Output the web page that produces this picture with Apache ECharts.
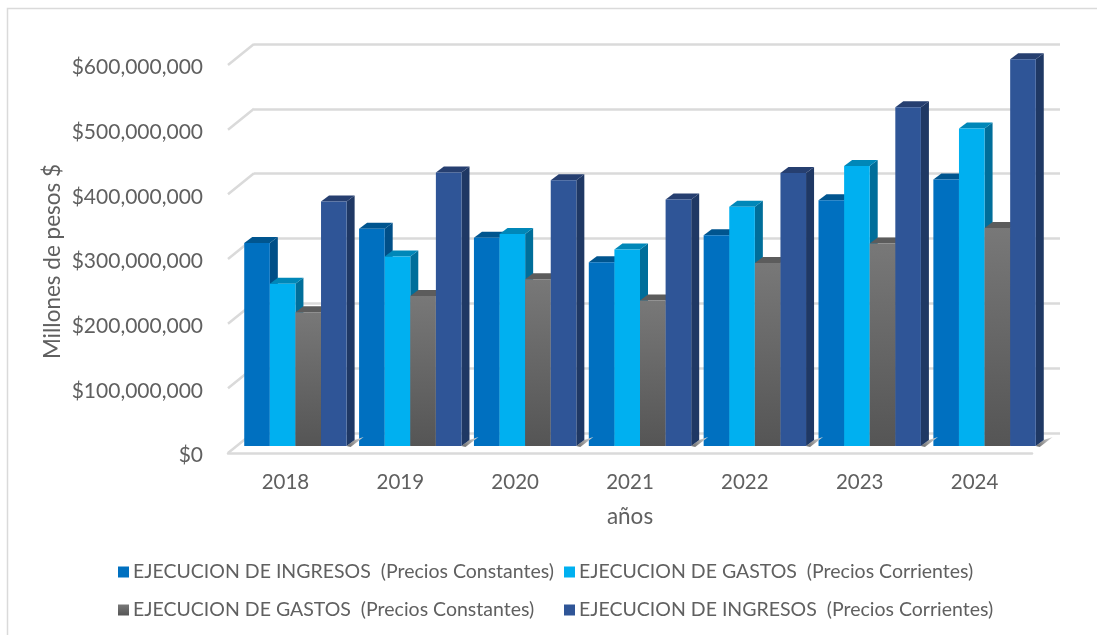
<!DOCTYPE html>
<html><head><meta charset="utf-8">
<style>html,body{margin:0;padding:0;background:#fff;overflow:hidden}#c{width:1097px;height:635px}</style>
<script src="https://cdn.jsdelivr.net/npm/echarts@6/dist/echarts.min.js"></script>
</head><body><div id="c"></div>
<script>
const years = ['2018','2019','2020','2021','2022','2023','2024'];
const ingresosConstantes = [314e6,336e6,322e6,284e6,326e6,380e6,412e6];
const gastosCorrientes   = [251e6,293e6,328e6,304e6,370e6,433e6,491e6];
const gastosConstantes   = [207e6,232e6,258e6,225e6,283e6,313e6,337e6];
const ingresosCorrientes = [378e6,423e6,411e6,381e6,422e6,524e6,598e6];
const yTicks = [0,1e8,2e8,3e8,4e8,5e8,6e8];
const seriesNames = ['EJECUCION DE INGRESOS  (Precios Constantes)','EJECUCION DE GASTOS  (Precios Corrientes)','EJECUCION DE GASTOS  (Precios Constantes)','EJECUCION DE INGRESOS  (Precios Corrientes)'];

const FONT='Lato', TXT='#606060', GRID='#dadada';
const BAR_W=25.6, SHIFT_X=10, SHIFT_Y=-7, DEP_X=8, DEP_Y=-6;
const grayGrad={type:'linear',x:0,y:0,x2:0,y2:1,colorStops:[{offset:0,color:'#787878'},{offset:1,color:'#555555'}]};
const shadowGrad={type:'linear',x:0,y:1,x2:1,y2:0,colorStops:[{offset:0,color:'#666666'},{offset:1,color:'#e0e0e0'}]};
const styles=[
 {front:'#0070C0',side:'#004F88',top:'#00558F'},
 {front:'#00B0F0',side:'#006E9A',top:'#0087B8'},
 {front:grayGrad,side:'#404040',top:'#5C5C5C'},
 {front:'#2F5597',side:'#1F3864',top:'#263F70'}
];
function barRender(idx){
  return function(params,api){
    const c=api.coord([api.value(0),api.value(1)]);
    const b=api.coord([api.value(0),0]);
    const l=c[0]+(idx-2)*BAR_W+SHIFT_X, r=l+BAR_W, t=c[1]+SHIFT_Y, bt=b[1]+SHIFT_Y;
    const s=styles[idx];
    const kids=[];
    if(idx===3){
      kids.push({type:'polygon',shape:{points:[[r,bt],[r+DEP_X,bt+DEP_Y],[r+DEP_X+9,bt+DEP_Y-3],[r+DEP_X-4,bt+1]]},style:{fill:shadowGrad},silent:true});
    }
    kids.push(
      {type:'polygon',shape:{points:[[r,t],[r+DEP_X,t+DEP_Y],[r+DEP_X,bt+DEP_Y],[r,bt]]},style:{fill:s.side}},
      {type:'polygon',shape:{points:[[l,t],[l+DEP_X,t+DEP_Y],[r+DEP_X,t+DEP_Y],[r,t]]},style:{fill:s.top}},
      {type:'rect',shape:{x:l,y:t,width:BAR_W,height:bt-t},style:{fill:s.front}}
    );
    return {type:'group',children:kids};
  };
}
function diagRender(params,api){
  const p=api.coord([0,api.value(0)]);
  return {type:'line',shape:{x1:228,y1:p[1],x2:254,y2:p[1]-21},style:{stroke:GRID,lineWidth:2.5,fill:null}};
}
const raw=[ingresosConstantes,gastosCorrientes,gastosConstantes,ingresosCorrientes];
const legendPos=[[118,562],[564,562],[118,600],[564,600]];
const option={
  animation:false,
  backgroundColor:'#fff',
  graphic:[{type:'rect',silent:true,z:-10,shape:{x:7.5,y:8.5,width:1200,height:800},style:{fill:'#fff',stroke:GRID,lineWidth:1.5}}],
  grid:[
    {left:228,width:804,top:65,height:388},
    {left:254,width:806,top:44,height:389},
    {left:228,width:804,top:67.5,height:388}
  ],
  xAxis:[
    {type:'category',gridIndex:0,data:years,name:'años',nameLocation:'middle',nameGap:52,nameMoveOverlap:false,
     nameTextStyle:{color:TXT,fontFamily:FONT,fontSize:22.5},
     axisTick:{show:false},axisLine:{show:true,lineStyle:{color:GRID,width:2.5}},
     axisLabel:{color:TXT,fontFamily:FONT,fontSize:20.5,margin:19},z:1},
    {type:'category',gridIndex:1,data:years,show:false},
    {type:'category',gridIndex:2,data:years,show:false}
  ],
  yAxis:[
    {type:'value',gridIndex:0,min:0,max:6e8,interval:1e8,show:false},
    {type:'value',gridIndex:1,min:0,max:6e8,interval:1e8,
     axisLine:{show:false},axisTick:{show:false},axisLabel:{show:false},
     splitLine:{show:true,lineStyle:{color:GRID,width:2.5}}},
    {type:'value',gridIndex:2,min:0,max:6e8,interval:1e8,name:'Millones de pesos $',nameLocation:'middle',nameGap:164,nameMoveOverlap:false,
     nameTextStyle:{color:TXT,fontFamily:FONT,fontSize:22.5},
     axisLine:{show:false},axisTick:{show:false},splitLine:{show:false},
     axisLabel:{color:TXT,fontFamily:FONT,fontSize:21,margin:25,formatter:v=>'$'+v.toLocaleString('en-US')}}
  ],
  legend:seriesNames.map((n,i)=>({data:[{name:n,icon:'rect'}],left:legendPos[i][0],top:legendPos[i][1],orient:'horizontal',
     itemWidth:11,itemHeight:11,itemGap:0,padding:0,selectedMode:false,
     textStyle:{color:TXT,fontFamily:FONT,fontSize:19.5,padding:[0,0,0,-1]}})),
  series:[
    {type:'custom',name:'wall',xAxisIndex:0,yAxisIndex:0,silent:true,z:1,renderItem:diagRender,
     data:yTicks.map(v=>[v]),encode:{y:0}},
    ...raw.map((vals,i)=>({
      type:'custom',name:seriesNames[i],xAxisIndex:0,yAxisIndex:0,z:3+i,
      itemStyle:{color:i===2?grayGrad:styles[i].front},
      renderItem:barRender(i),
      data:vals.map((v,k)=>[k,v]),encode:{x:0,y:1}
    }))
  ]
};
const chart=echarts.init(document.getElementById('c'),null,{renderer:'canvas'});
chart.setOption(option);
</script></body></html>
